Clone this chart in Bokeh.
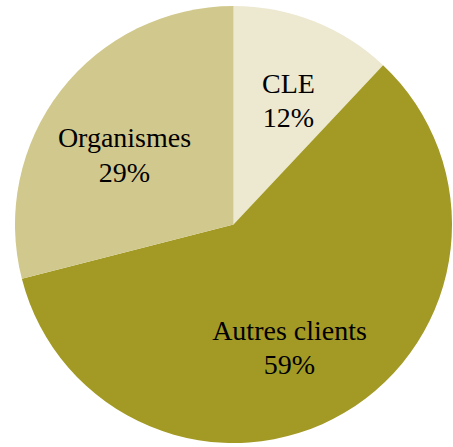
import numpy as np
from bokeh.plotting import figure
from bokeh.models import ColumnDataSource, Range1d
from bokeh.core.properties import value
from bokeh.embed import file_html
from bokeh.resources import INLINE

categories = ["CLE", "Autres clients", "Organismes"]
shares = [12, 59, 29]
colors = ["#EDE8D0", "#A39A25", "#D1C88D"]

W, H = 453, 447
p = figure(width=W, height=H, output_backend="svg", toolbar_location=None,
           x_range=Range1d(0, W), y_range=Range1d(0, H), min_border=0)
p.axis.visible = False
p.grid.visible = False
p.outline_line_color = None
p.background_fill_color = None
p.border_fill_color = None

fr = np.array(shares, dtype=float) / sum(shares)
cum = np.concatenate([[0], np.cumsum(fr)])
start = np.pi / 2 - cum[:-1] * 2 * np.pi
end = np.pi / 2 - cum[1:] * 2 * np.pi

def X(px):
    return px

def Y(py):
    return H - py

cx, cy, r = X(233), Y(224), 218.5
src = ColumnDataSource(dict(start=start, end=end, color=colors))
p.wedge(x=cx, y=cy, radius=r, start_angle="start", end_angle="end",
        direction="clock", fill_color="color", line_color=None, source=src)

# label placements (image pixel coordinates of line baselines)
pos = {"CLE": (288, 93, 127), "Autres clients": (289, 340, 374), "Organismes": (124, 147, 182)}
shift = 10  # svg baseline compensation
tx, ty, tt = [], [], []
for c, s in zip(categories, shares):
    x0, y1, y2 = pos[c]
    tx += [X(x0), X(x0)]
    ty += [Y(y1 - shift), Y(y2 - shift)]
    tt += [c, f"{s}%"]
p.text(x=tx, y=ty, text=tt, text_font=value("Liberation Serif"), text_font_size="28px",
       text_align="center", text_baseline="alphabetic", text_color="#000000")

open("out.html", "w").write(file_html(p, INLINE))
